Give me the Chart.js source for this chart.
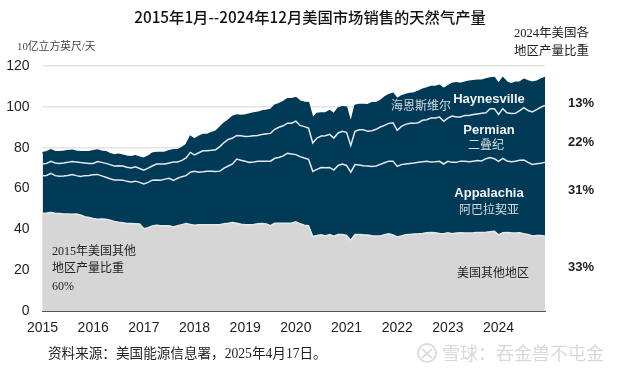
<!DOCTYPE html>
<html>
<head>
<meta charset="utf-8">
<style>
html, body { margin: 0; padding: 0; background: #fff; }
#wrap { position: relative; width: 624px; height: 372px; }
</style>
<script src="https://cdn.jsdelivr.net/npm/chart.js@4"></script>
</head>
<body>
<div id="wrap"><canvas id="chart" width="624" height="372"></canvas></div>
<script>
var years = [2015, 2016, 2017, 2018, 2019, 2020, 2021, 2022, 2023, 2024];
var y_ticks = [0, 20, 40, 60, 80, 100, 120];

// cumulative levels, monthly, Jan 2015 - Dec 2024
var other_top = [
    47.8, 48, 48.3, 47.9, 47.7, 47.5, 47.5, 47.4, 47.5, 47, 46.2, 45.8,
    45.3, 44.9, 45, 44.9, 44.5, 43.9, 43.5, 43.2, 42.9, 42.8, 42.7, 42.6,
    40.3, 40.8, 41.7, 42, 41.8, 41.7, 41.7, 41.2, 41.8, 42.3, 42.8, 42.4,
    42, 42.2, 42.2, 42.3, 42.2, 42.2, 42.2, 42.7, 43, 43.4, 43, 42.5,
    42.3, 42.2, 42.4, 42.7, 42.8, 42.6, 41.8, 43, 43, 43, 43, 43.1,
    43.7, 42.7, 42, 41.8, 36.5, 37, 37.3, 36.8, 37.5, 36.6, 37.5, 37.5,
    37, 34.7, 37.5, 37.5, 37.3, 37.2, 36.9, 36.7, 36.7, 37.3, 37.8, 37.3,
    36.3, 36.8, 37.3, 37.5, 37.7, 37.8, 38, 38.3, 38.5, 38.3, 38, 37.8,
    38.3, 37.8, 38.2, 38.3, 38.2, 38.2, 38.3, 38.5, 38.5, 38.6, 38.8, 39,
    37.3, 38.3, 38.5, 38.3, 38.2, 38.3, 37.8, 37.5, 36.7, 37, 37, 36.7
];
var appalachia_top = [
    66.2, 66.4, 67.4, 66.3, 66, 66.1, 66.4, 66.8, 66.3, 65.9, 66.3, 66.4,
    66.7, 66.9, 66.2, 65.5, 64.8, 64.2, 64.2, 64.1, 63.5, 63.2, 63.6, 63,
    62.2, 63, 64.1, 64.2, 64.1, 64.6, 65, 64, 65, 65.8, 66.3, 68,
    68.4, 68, 68.2, 68.5, 68.4, 68.3, 68.5, 70, 71, 72, 74.4, 73.8,
    73.3, 72.8, 73, 73.3, 73.4, 73.4, 73.4, 74.8, 75.2, 76, 77.3, 76.9,
    76.6, 75.6, 74.9, 74.3, 68.4, 69.4, 70.3, 70.2, 70.3, 69, 71.3, 72,
    71.3, 68, 71.7, 71.5, 71.2, 71, 70.8, 71, 71.8, 72.6, 73.4, 73.4,
    70.8, 71.7, 72, 72.3, 72.5, 72.8, 73.1, 73.3, 73, 73.1, 73.3, 72,
    73.3, 72.8, 72.8, 73.4, 73.3, 73.1, 73.4, 73.7, 73.5, 74.6, 75.2, 74.6,
    73.3, 74.8, 73.5, 73.1, 73.3, 73.8, 74, 72.8, 71.8, 72.1, 72.4, 72.8
];
var permian_top = [
    72, 72.3, 73.3, 72.5, 72.3, 72.5, 72.8, 73.2, 73, 72.7, 72.5, 72.3,
    72.3, 73.2, 72.8, 72.3, 71.7, 71, 71.2, 71, 70.4, 70, 70.6, 69.8,
    69, 70, 71, 72, 72, 72, 72.5, 73, 73, 73.8, 75, 77.7,
    76.5, 77.5, 78.5, 78.5, 78.7, 79, 80.5, 82.5, 84, 84.7, 86, 85.8,
    85.5, 85.6, 85.8, 86, 86.5, 86.8, 87, 89, 90, 90.7, 92, 92,
    93, 90.9, 90.3, 89.6, 82.3, 84.7, 85.7, 85.8, 86.5, 84.7, 87.2, 88,
    87.5, 81.1, 88, 88.8, 88.8, 88, 88.3, 89, 90.1, 90.9, 91.9, 92.2,
    88.5, 90.4, 91.4, 91.9, 91.9, 92.2, 93.4, 93.7, 94.5, 94.5, 95, 92.9,
    94.5, 95.5, 95, 95, 95.8, 95.8, 96.2, 96.5, 96.8, 97.1, 99.1, 99.1,
    96.3, 99.1, 97.1, 96.7, 96.8, 98.2, 99.6, 98.2, 97.5, 98.6, 99.8, 100.7
];
var haynesville_top = [
    77.5, 78, 79, 78, 78, 78.2, 78.5, 78.7, 78.2, 78, 78, 78,
    78.5, 78.8, 78.2, 78, 77, 76.4, 76.8, 76.3, 75.8, 75.6, 76, 75.3,
    74.8, 75.8, 77.3, 77.6, 77.6, 77.8, 78.5, 79, 79, 80, 81.5, 85.5,
    84.2, 85.5, 86.5, 86.5, 87.3, 88, 90, 92, 93.5, 95.3, 96, 95.7,
    96, 96.5, 97, 97.3, 98, 98.3, 98.7, 100.8, 101.5, 102.5, 104, 104,
    104.5, 102.8, 102.3, 102, 94.5, 96.8, 97, 97, 98.1, 96.6, 99.4, 100,
    99.8, 92.2, 100.7, 101.2, 101.2, 101, 102, 102, 103, 104.8, 106, 106.6,
    104, 105.3, 106, 106.5, 106.8, 107.6, 108.6, 109.2, 110, 110, 110.5, 108.9,
    110.2, 111.4, 111.8, 111.4, 112.1, 112.5, 112.8, 113, 113, 113.6, 114.1, 114.4,
    111.5, 114.3, 112.1, 111.2, 112, 112.1, 113.5, 112.7, 112, 112.5, 113.5, 114.4
];

var months = [];
years.forEach(function(year) {
    for (var m = 1; m <= 12; m++) {
        months.push(year + "-" + m);
    }
});

var _navy = "#003a56";
var _grey = "#d6d6d6";
var _line = "#e4e9ec";
var _mixed = '"Liberation Serif", "Noto Sans CJK SC", serif';
var _sans = '"Liberation Sans", Arial, sans-serif';
var _cjk = '"Noto Sans CJK SC", sans-serif';

var _labels = [
    {text: "2015年1月--2024年12月美国市场销售的天然气产量", x: 310, y: 17, align: "center", font: "500 15.3px " + _cjk, color: "#111"},
    {text: "10亿立方英尺/天", x: 17, y: 47, font: "10.8px " + _mixed, color: "#444"},
    {text: "2024年美国各", x: 514, y: 34, font: "12.5px " + _mixed, color: "#222"},
    {text: "地区产量比重", x: 514, y: 52, font: "12.5px " + _mixed, color: "#222"},
    {text: "13%", x: 581, y: 103, align: "center", font: "bold 13px " + _sans, color: "#222"},
    {text: "22%", x: 581, y: 142, align: "center", font: "bold 13px " + _sans, color: "#222"},
    {text: "31%", x: 581, y: 190, align: "center", font: "bold 13px " + _sans, color: "#222"},
    {text: "33%", x: 581, y: 267, align: "center", font: "bold 13px " + _sans, color: "#222"},
    {text: "Haynesville", x: 489, y: 99, align: "center", font: "bold 13px " + _sans, color: "#f2f2f2"},
    {text: "Permian", x: 489, y: 130, align: "center", font: "bold 13px " + _sans, color: "#f2f2f2"},
    {text: "Appalachia", x: 489, y: 193, align: "center", font: "bold 13px " + _sans, color: "#f2f2f2"},
    {text: "海恩斯维尔", x: 421, y: 107, align: "center", font: "12px " + _mixed, color: "#d5dde2"},
    {text: "二叠纪", x: 486, y: 146, align: "center", font: "12px " + _mixed, color: "#d5dde2"},
    {text: "阿巴拉契亚", x: 489, y: 211, align: "center", font: "12px " + _mixed, color: "#d5dde2"},
    {text: "美国其他地区", x: 493, y: 274, align: "center", font: "12px " + _mixed, color: "#222"},
    {text: "2015年美国其他", x: 52, y: 252, font: "12px " + _mixed, color: "#222"},
    {text: "地区产量比重", x: 52, y: 269, font: "12px " + _mixed, color: "#222"},
    {text: "60%", x: 52, y: 287, font: "12px " + _mixed, color: "#222"},
    {text: "资料来源\uFF1A美国能源信息署\uFF0C2025年4月17日。", x: 48, y: 354, font: "13.6px " + _mixed, color: "#222"},
    {text: "雪球\uFF1A吞金兽不屯金", x: 442, y: 353, font: "18px " + _cjk, color: "#d8d8d8"}
];

var text_plugin = {
    id: "chart_texts",
    afterDraw: function(chart) {
        var ctx = chart.ctx;
        ctx.save();
        ctx.textBaseline = "middle";
        _labels.forEach(function(label) {
            ctx.font = label.font;
            ctx.fillStyle = label.color;
            ctx.textAlign = label.align || "left";
            ctx.fillText(label.text, label.x, label.y);
        });
        // watermark logo
        ctx.strokeStyle = "#dcdcdc";
        ctx.lineWidth = 2;
        ctx.beginPath();
        ctx.arc(427, 353, 9, 0, Math.PI * 2);
        ctx.moveTo(422, 349);
        ctx.lineTo(432, 358);
        ctx.moveTo(432, 349);
        ctx.lineTo(422, 358);
        ctx.stroke();
        ctx.restore();
    }
};

function _level(label, data, color, fill_color) {
    return {
        label: label,
        data: data,
        borderColor: color,
        borderWidth: 1.5,
        pointRadius: 0,
        tension: 0,
        fill: fill_color ? "origin" : false,
        backgroundColor: fill_color || "transparent"
    };
}

new Chart(document.getElementById("chart"), {
    type: "line",
    data: {
        labels: months,
        datasets: [
            _level("美国其他地区", other_top, _line, _grey),
            _level("Appalachia", appalachia_top, _line),
            _level("Permian", permian_top, _line),
            _level("Haynesville", haynesville_top, _navy, _navy)
        ]
    },
    options: {
        responsive: false,
        animation: false,
        layout: {padding: {left: 0, right: 79, top: 66, bottom: 0}},
        plugins: {
            legend: {display: false},
            tooltip: {enabled: false}
        },
        scales: {
            x: {
                offset: false,
                grid: {display: false, drawTicks: true, tickLength: 4, tickColor: "#444"},
                border: {color: "#555", width: 1},
                afterBuildTicks: function(scale) {
                    scale.ticks = scale.ticks.filter(function(tick) {
                        return tick.value % 12 === 0;
                    });
                },
                afterFit: function(scale) {
                    scale.height = 61;
                },
                ticks: {
                    autoSkip: false,
                    maxRotation: 0,
                    color: "#222",
                    padding: 5,
                    font: {family: _sans, size: 14},
                    callback: function(value) {
                        return years[value / 12];
                    }
                }
            },
            y: {
                min: 0,
                max: 120,
                afterFit: function(scale) {
                    scale.width = 42.5;
                },
                afterBuildTicks: function(scale) {
                    scale.ticks = y_ticks.map(function(v) { return {value: v}; });
                },
                grid: {color: "#e4e4e4", lineWidth: 1.5, drawTicks: false},
                border: {display: false},
                ticks: {
                    color: "#222",
                    padding: 13,
                    font: {family: _sans, size: 14}
                }
            }
        }
    },
    plugins: [text_plugin]
});
</script>
</body>
</html>
